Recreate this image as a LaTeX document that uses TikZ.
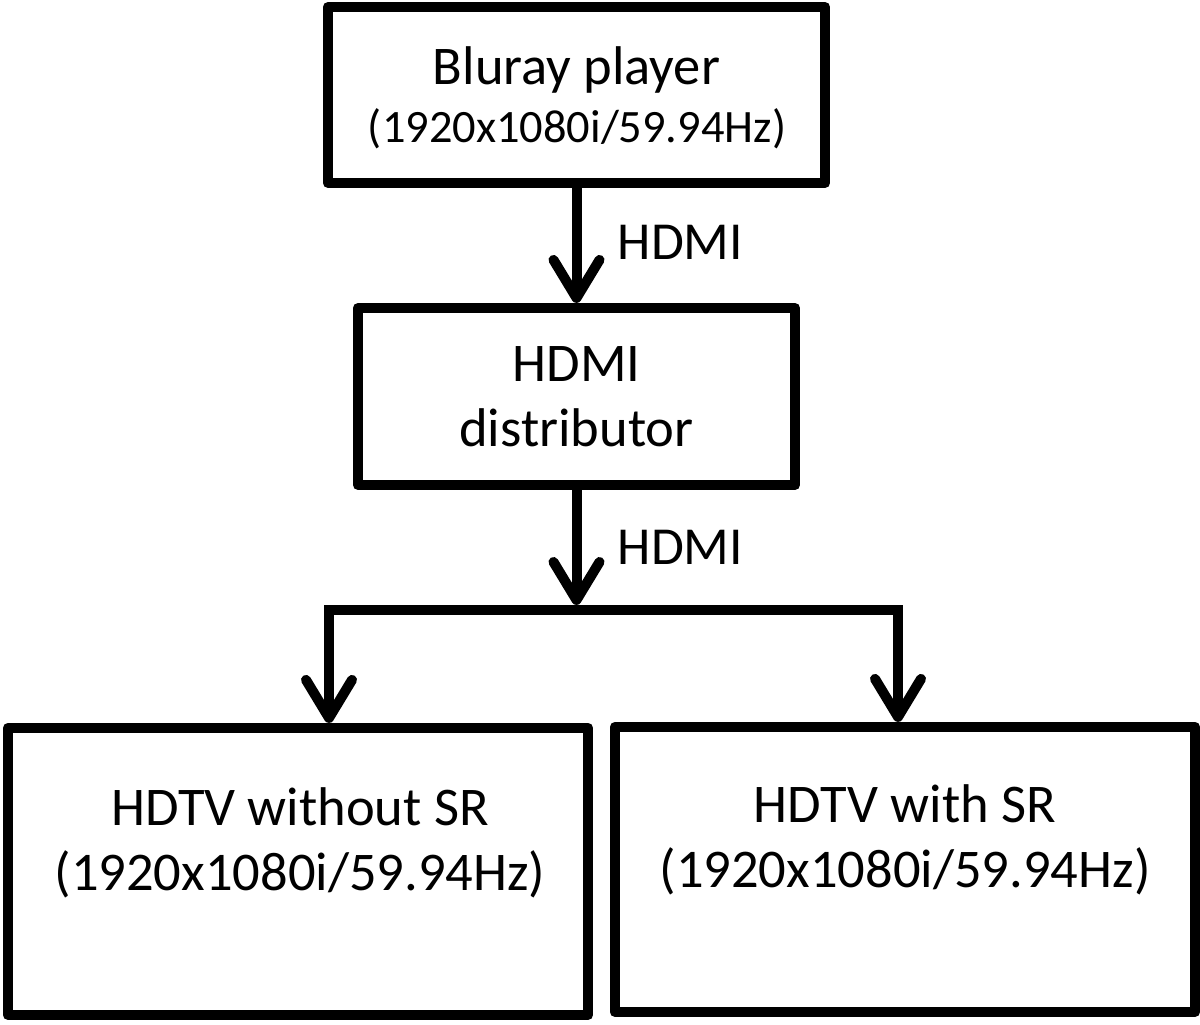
\documentclass[tikz,border=0pt]{standalone}
\usepackage{fontspec}
\setmainfont{Carlito}
\usetikzlibrary{arrows.meta}
\begin{document}
\begin{tikzpicture}[x=0.01cm,y=-0.01cm,
  box/.style={draw=black,line width=0.1cm,line join=round,inner sep=0pt,fill=white},
  big/.style={inner sep=0pt,font=\fontsize{15.5}{18}\selectfont},
  lbl/.style={inner sep=0pt,font=\fontsize{15.2}{18}\selectfont},
  small/.style={inner sep=0pt,font=\fontsize{13.2}{16}\selectfont},
  barb/.tip={Straight Barb[length=0.38cm,width=0.46cm,round]},
  conn/.style={line width=0.1cm,-barb},
  bus/.style={line width=0.1cm,barb-barb,line join=miter}]
\useasboundingbox (0,0) rectangle (1200,1025);
% boxes
\node[box,minimum width=4.97cm,minimum height=1.76cm] (b1) at (576.5,95) {};
\node[box,minimum width=4.37cm,minimum height=1.77cm] (b2) at (576.5,396.5) {};
\node[box,minimum width=5.80cm,minimum height=2.87cm] (b3) at (298,871.5) {};
\node[box,minimum width=5.80cm,minimum height=2.85cm] (b4) at (905,869.5) {};
% texts
\node[big,anchor=base] (t1a) at (576.5,85) {Bluray player};
\node[small,anchor=base] (t1b) at (577,143) {(1920x1080i/59.94Hz)};
\node[big,anchor=base] (t2a) at (576.5,382) {HDMI};
\node[big,anchor=base] (t2b) at (576.5,447) {distributor};
\node[big,anchor=base] (t3a) at (300,825) {HDTV without SR};
\node[big,anchor=base] (t3b) at (300,890) {(1920x1080i/59.94Hz)};
\node[big,anchor=base] (t4a) at (905,822) {HDTV with SR};
\node[big,anchor=base] (t4b) at (905,887) {(1920x1080i/59.94Hz)};
\node[lbl,anchor=base west] (l1) at (617,260) {HDMI};
\node[lbl,anchor=base west] (l2) at (617,565) {HDMI};
% connectors
\coordinate (split) at (576.5,605);
\coordinate (L) at (329,610);
\coordinate (R) at (898,610);
\draw[conn] (b1.south) -- (b2.north);
\draw[conn] (b2.south) -- (split);
\draw[bus] (L |- b3.north) -- (L) -- (R) -- (R |- b4.north);
\end{tikzpicture}
\end{document}
